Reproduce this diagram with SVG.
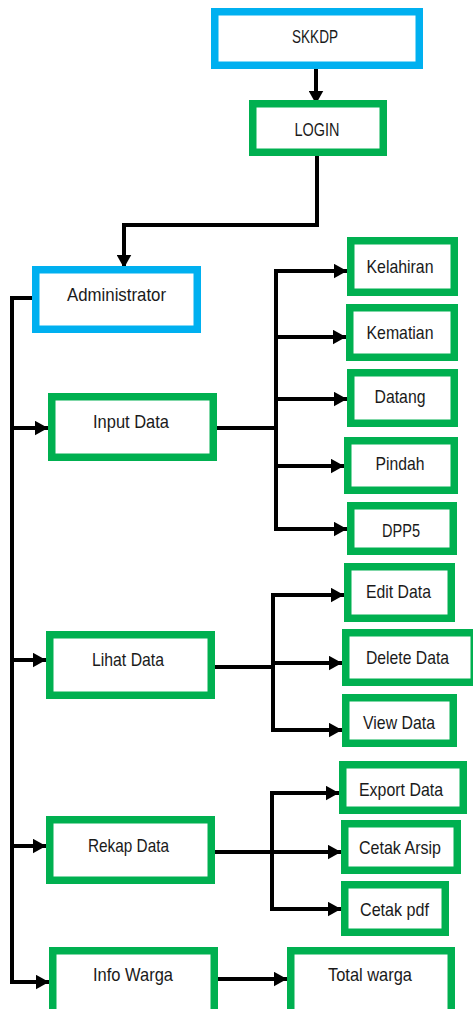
<svg xmlns="http://www.w3.org/2000/svg" width="473" height="1009" viewBox="0 0 473 1009">
<style>
.b{fill:#fff;stroke:#00B0F0;stroke-width:7.5}
.g{fill:#fff;stroke:#00B050;stroke-width:7.5}
.t{font-family:"Liberation Sans",Arial,sans-serif;font-size:19px;fill:#1a1a1a;text-anchor:middle}
.c{fill:none;stroke:#000;stroke-width:4}
</style>
<defs>
<marker id="ah" markerUnits="userSpaceOnUse" markerWidth="14" markerHeight="15" refX="13.5" refY="7.5" orient="auto">
<path d="M0,0 L13.5,7.5 L0,15 z" fill="#000"/>
</marker>
</defs>
<rect width="473" height="1009" fill="#fff"/>
<g id="connectors">
<path class="c" d="M316,69 V104" marker-end="url(#ah)"/>
<path class="c" d="M317,156 V225 H124 V268" marker-end="url(#ah)"/>
<path class="c" d="M34,298 H12 V982"/>
<path class="c" d="M12,428 H48" marker-end="url(#ah)"/>
<path class="c" d="M12,660 H46" marker-end="url(#ah)"/>
<path class="c" d="M12,846 H46" marker-end="url(#ah)"/>
<path class="c" d="M10,982 H49" marker-end="url(#ah)"/>
<path class="c" d="M217,428 H276"/>
<path class="c" d="M276,269 V531"/>
<path class="c" d="M274,271 H347" marker-end="url(#ah)"/>
<path class="c" d="M276,337 H346" marker-end="url(#ah)"/>
<path class="c" d="M276,399 H347" marker-end="url(#ah)"/>
<path class="c" d="M276,466 H344" marker-end="url(#ah)"/>
<path class="c" d="M274,529 H347" marker-end="url(#ah)"/>
<path class="c" d="M215,667 H273"/>
<path class="c" d="M273,593 V732"/>
<path class="c" d="M271,595 H344" marker-end="url(#ah)"/>
<path class="c" d="M273,663 H342" marker-end="url(#ah)"/>
<path class="c" d="M271,730 H342" marker-end="url(#ah)"/>
<path class="c" d="M215,852 H341" marker-end="url(#ah)"/>
<path class="c" d="M272,791 V911"/>
<path class="c" d="M270,793 H339" marker-end="url(#ah)"/>
<path class="c" d="M270,909 H341" marker-end="url(#ah)"/>
<path class="c" d="M218,979 H287" marker-end="url(#ah)"/>
</g>
<g id="skkdp"><rect class="b" x="214.75" y="11.75" width="204.5" height="53.5"/><text class="t" x="315" y="43" textLength="46" lengthAdjust="spacingAndGlyphs">SKKDP</text></g>
<g id="login"><rect class="g" x="252.75" y="103.75" width="130.5" height="48.5"/><text class="t" x="317" y="136" textLength="45" lengthAdjust="spacingAndGlyphs">LOGIN</text></g>
<g id="administrator"><rect class="b" x="35.75" y="269.75" width="161.5" height="59.5"/><text class="t" x="116.5" y="301" textLength="99" lengthAdjust="spacingAndGlyphs">Administrator</text></g>
<g id="kelahiran"><rect class="g" x="350.75" y="240.75" width="103.5" height="51.5"/><text class="t" x="400" y="273" textLength="67" lengthAdjust="spacingAndGlyphs">Kelahiran</text></g>
<g id="kematian"><rect class="g" x="349.75" y="307.75" width="104.5" height="49.5"/><text class="t" x="400" y="339" textLength="67" lengthAdjust="spacingAndGlyphs">Kematian</text></g>
<g id="datang"><rect class="g" x="350.75" y="372.75" width="103.5" height="50.5"/><text class="t" x="400" y="403" textLength="51" lengthAdjust="spacingAndGlyphs">Datang</text></g>
<g id="pindah"><rect class="g" x="347.75" y="440.75" width="106.5" height="49.5"/><text class="t" x="400" y="470" textLength="49" lengthAdjust="spacingAndGlyphs">Pindah</text></g>
<g id="dpp5"><rect class="g" x="350.75" y="505.75" width="102.5" height="45.5"/><text class="t" x="401" y="537" textLength="38" lengthAdjust="spacingAndGlyphs">DPP5</text></g>
<g id="input-data"><rect class="g" x="51.75" y="396.75" width="161.5" height="60.5"/><text class="t" x="131" y="428" textLength="76" lengthAdjust="spacingAndGlyphs">Input Data</text></g>
<g id="edit-data"><rect class="g" x="347.75" y="566.75" width="103.5" height="51.5"/><text class="t" x="398.5" y="598" textLength="65" lengthAdjust="spacingAndGlyphs">Edit Data</text></g>
<g id="lihat-data"><rect class="g" x="49.75" y="634.75" width="161.5" height="60.5"/><text class="t" x="128" y="666" textLength="72" lengthAdjust="spacingAndGlyphs">Lihat Data</text></g>
<g id="delete-data"><rect class="g" x="345.75" y="632.75" width="128.5" height="49.5"/><text class="t" x="407.5" y="664" textLength="83" lengthAdjust="spacingAndGlyphs">Delete Data</text></g>
<g id="view-data"><rect class="g" x="345.75" y="697.75" width="107.5" height="45.5"/><text class="t" x="399" y="729" textLength="72" lengthAdjust="spacingAndGlyphs">View Data</text></g>
<g id="export-data"><rect class="g" x="342.75" y="764.75" width="120.5" height="45.5"/><text class="t" x="401" y="796" textLength="84" lengthAdjust="spacingAndGlyphs">Export Data</text></g>
<g id="rekap-data"><rect class="g" x="49.75" y="819.75" width="161.5" height="60.5"/><text class="t" x="128.5" y="852" textLength="81" lengthAdjust="spacingAndGlyphs">Rekap Data</text></g>
<g id="cetak-arsip"><rect class="g" x="344.75" y="823.75" width="112.5" height="46.5"/><text class="t" x="400" y="854" textLength="82" lengthAdjust="spacingAndGlyphs">Cetak Arsip</text></g>
<g id="cetak-pdf"><rect class="g" x="344.75" y="884.75" width="100.5" height="47.5"/><text class="t" x="394.5" y="916" textLength="69" lengthAdjust="spacingAndGlyphs">Cetak pdf</text></g>
<g id="info-warga"><rect class="g" x="52.75" y="950.75" width="161.5" height="70"/><text class="t" x="133" y="981" textLength="80" lengthAdjust="spacingAndGlyphs">Info Warga</text></g>
<g id="total-warga"><rect class="g" x="290.75" y="950.75" width="160.5" height="70"/><text class="t" x="370" y="981" textLength="84" lengthAdjust="spacingAndGlyphs">Total warga</text></g>
</svg>
